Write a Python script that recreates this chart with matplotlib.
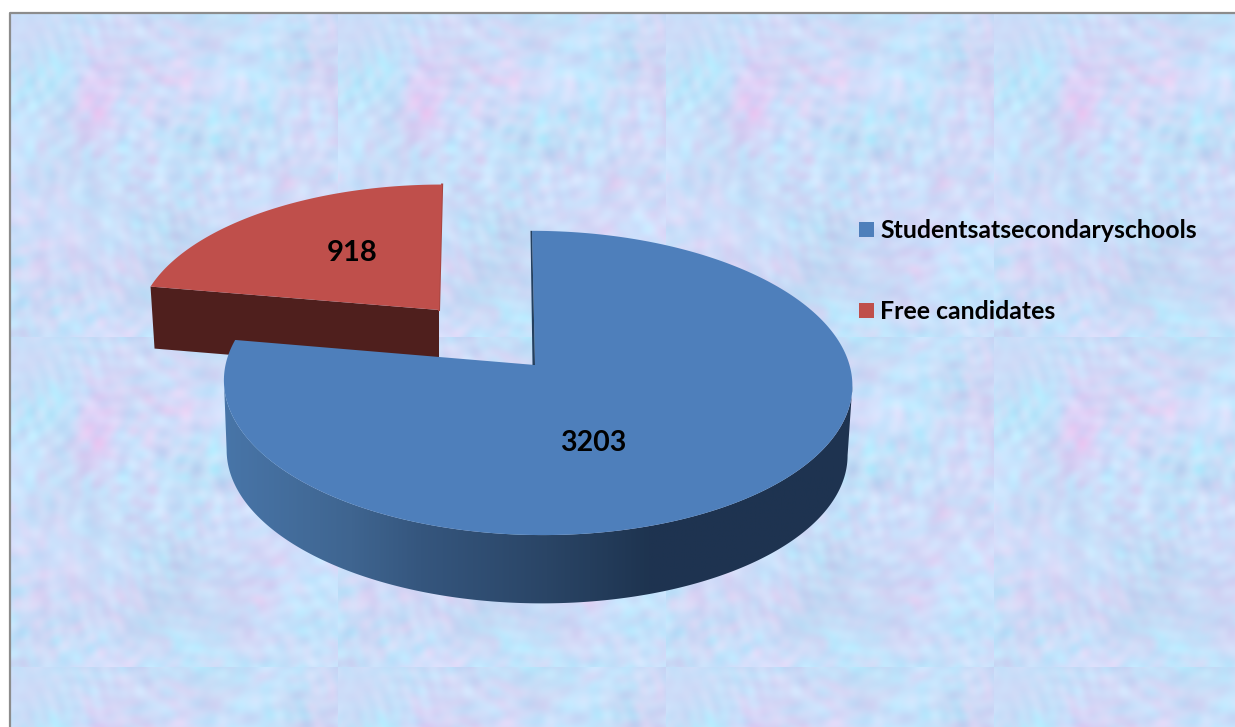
import numpy as np
import matplotlib
matplotlib.use("Agg")
import matplotlib.pyplot as plt
from matplotlib.colors import LinearSegmentedColormap
from matplotlib.patches import Polygon, Rectangle

# ── Data ──────────────────────────────────────────────────────────
categories = ["Studentsatsecondaryschools", "Free candidates"]
values = [3203, 918]
colors = ["#4e7fbb", "#bf4f4b"]
side_red = "#4f1f1d"

# ── Pie geometry, in pixels of the picture ────────────────────────
W, H = 1235, 727
CX, CY = 535, 365        # blue apex
MID_X = 537.5
B = 312                  # half width
A = 150                  # half height
K = 0.118                # perspective
DEPTH = 70

RED_APEX = (439, 310)


def project(t):
    """pie angle (radians, clockwise from top) to picture offset from apex"""
    u = -np.cos(t)
    w = 1 / (1 - K * u)
    x = MID_X - CX + B * np.sin(t) * w + 5.5 * u
    y = A * u * w
    return x, y


def blue_top(t):
    x, y = project(t)
    return CX + x, CY + y


def blue_bottom(t):
    x, y = project(t)
    return CX + 0.988 * x - 1, CY + DEPTH + 0.99 * y


def red_top(t):
    x, y = project(t)
    return RED_APEX[0] + 0.96 * x + 8 * np.cos(t) - 2, RED_APEX[1] + 0.935 * y


def background():
    # tiled mottled wallpaper, built from a fixed sum of sines
    tile_w, tile_h = 328, 330
    yy, xx = np.mgrid[0:tile_h, 0:tile_w]
    golden = 2.39996

    def mottle(seed, n, lo, hi):
        out = np.zeros(xx.shape)
        for i in range(n):
            ang = golden * (i + seed) * 1.37
            freq = lo * (hi / lo) ** (((i * 0.618034) + seed * 0.37) % 1)
            phase = 5.1 * (i + 1) * (seed + 1.3)
            out += np.sin(freq * (np.cos(ang) * xx + np.sin(ang) * yy) + phase)
        return out / np.sqrt(n / 2)

    big_a = mottle(1, 40, 0.02, 0.09)
    big_b = mottle(2, 40, 0.02, 0.09)
    fine_a = mottle(3, 120, 0.10, 0.45)
    fine_b = mottle(4, 120, 0.10, 0.45)

    pink = np.exp(-((xx - 85) / 24.0) ** 2 - ((yy - 93) / 48.0) ** 2)
    pink += 0.35 * np.exp(-((xx - 250) / 40.0) ** 2 - ((yy - 240) / 45.0) ** 2)

    r = 202 + 5 * big_a + 5 * fine_a + 22 * pink
    g = 222 + 3 * big_b - 1.5 * big_a + 4 * fine_b - 16 * pink
    b = 249 + 2 * fine_b + 2 * big_b - 3 * pink
    tile = np.clip(np.dstack([r, g, b]), 0, 255) / 255

    rows = np.arange(H) + 323
    cols = np.arange(W) - 10
    return tile[np.ix_(rows % tile_h, cols % tile_w)]


# ── Figure ────────────────────────────────────────────────────────
fig = plt.figure(figsize=(W / 100, H / 100), dpi=100, facecolor="white")
ax = fig.add_axes([0, 0, 1, 1])
ax.axis("off")

img = background()
img[:13, :] = 1
img[:, :10] = 1
ax.imshow(img, extent=(0, W, H, 0), aspect="auto", interpolation="bilinear", zorder=0)
ax.plot([9.5, 9.5, W], [H, 12.5, 12.5], color="#8c8c8c", lw=1.6, zorder=1)

# wedge angles come from the values
split = 2 * np.pi * values[0] / sum(values)

# red slice, pulled out to the upper left
t_red = np.linspace(split, 2 * np.pi, 120)
rx, ry = red_top(t_red)
ax.add_patch(Polygon([(rx[0], ry[0]), (rx[0] + 4, ry[0] + 62),
                      (RED_APEX[0], RED_APEX[1] + 62), RED_APEX],
                     closed=True, fc=side_red, ec="none", zorder=2))
ax.plot([rx[-1], RED_APEX[0]], [ry[-1], RED_APEX[1]], color="#a84642", lw=1.5, zorder=2)
ax.add_patch(Polygon(np.r_[[RED_APEX], np.c_[rx, ry]], closed=True,
                     fc=colors[1], ec="none", zorder=3))

# blue outer wall, shaded left to right; it runs between the widest points
t_grid = np.radians(np.linspace(0, 360, 1441))
gx = blue_top(t_grid)[0]
t_wall = np.linspace(t_grid[np.argmax(gx)], t_grid[np.argmin(gx)], 300)
tx, ty = blue_top(t_wall)
bx, by = blue_bottom(t_wall)
wall = Polygon(np.r_[np.c_[tx, ty], np.c_[bx, by][::-1]], closed=True,
               fc="none", ec="none", transform=ax.transData)
ax.add_patch(wall)
stops = [(224, "#4875a8"), (350, "#3f6590"), (420, "#35567e"),
         (547, "#2a4566"), (650, "#1e3450"), (853, "#1e3350")]
cmap = LinearSegmentedColormap.from_list(
    "wall", [((x - 224) / (853 - 224), c) for x, c in stops])
grad = ax.imshow(np.linspace(0, 1, 400)[None, :], extent=(224, 853, 620, 340),
                 cmap=cmap, aspect="auto", zorder=4)
grad.set_clip_path(wall)

# blue top face
t_blue = np.linspace(0, split, 300)
fx, fy = blue_top(t_blue)
ax.add_patch(Polygon(np.r_[[(CX, CY)], np.c_[fx, fy]], closed=True,
                     fc=colors[0], ec="none", zorder=5))
ax.add_patch(Polygon([(fx[0], fy[0]), (CX, CY), (CX - 2.5, CY), (fx[0] - 1.5, fy[0])],
                     closed=True, fc="#24405f", ec="none", zorder=5))

ax.set_xlim(0, W)
ax.set_ylim(H, 0)

# value labels
font = dict(family="Lato", weight="bold", color="black")
ax.text(352, 253, str(values[1]), fontsize=21, ha="center", va="center", zorder=6, **font)
ax.text(593, 443, str(values[0]), fontsize=20.5, ha="center", va="center", zorder=6, **font)

# legend
for y0, name, col in zip([222, 303], categories, colors):
    ax.add_patch(Rectangle((859, y0), 15, 15, fc=col, ec="none", zorder=6))
    ax.text(880, y0 + 16, name, fontsize=17.9, ha="left", va="baseline", zorder=6, **font)

fig.savefig("out.png", dpi=100)
